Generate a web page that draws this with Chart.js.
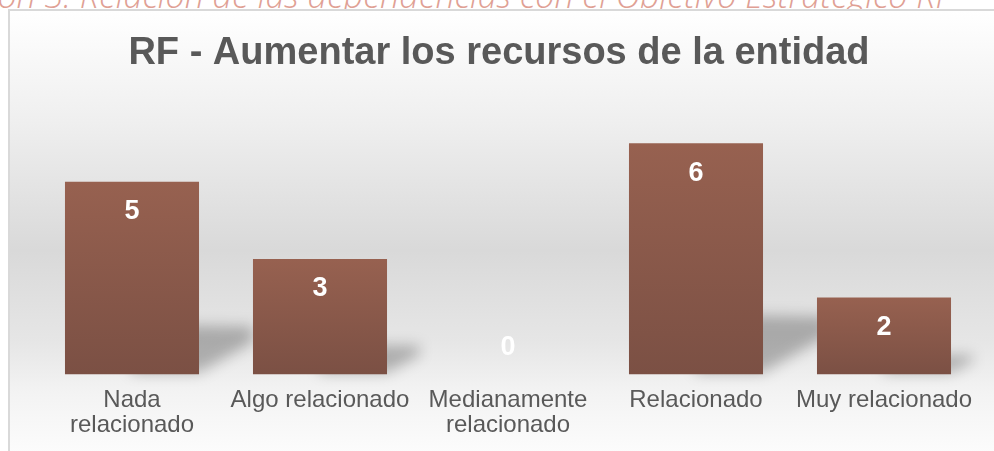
<!DOCTYPE html>
<html>
<head>
<meta charset="utf-8">
<title>RF - Aumentar los recursos de la entidad</title>
<script src="https://cdn.jsdelivr.net/npm/chart.js@4.4.0/dist/chart.umd.min.js"></script>
<style>
  html, body {
    margin: 0;
    padding: 0;
    width: 994px;
    height: 451px;
    overflow: hidden;
    background: #fff;
  }

  .caption {
    position: absolute;
    right: 42px;
    top: -22px;
    line-height: 34px;
    white-space: nowrap;
    font-family: "Open Sans", "Lato", sans-serif;
    font-style: italic;
    font-weight: 300;
    font-size: 34px;
    color: #e0a094;
  }

  .frame {
    position: absolute;
    left: 8px;
    top: 9px;
    width: 1000px;
    height: 460px;
    border: 2px solid #d9d9d9;
    background: linear-gradient(to bottom,
      #ffffff 0%, #efefef 24%, #d9d9d9 52%, #e6e6e6 72%, #f3f3f3 83%, #fcfcfc 96%);
  }

  #chart {
    position: absolute;
    left: 0;
    top: 0;
  }
</style>
</head>
<body>
<div class="caption">Ilustración 3. Relación de las dependencias con el Objetivo Estratégico RF</div>
<div class="frame"></div>
<canvas id="chart" width="994" height="451"></canvas>

<script>
  // datos del gráfico
  var chartTitle = 'RF - Aumentar los recursos de la entidad';
  var categories = [['Nada', 'relacionado'], 'Algo relacionado', ['Medianamente', 'relacionado'], 'Relacionado', 'Muy relacionado'];
  var values = [5, 3, 0, 6, 2];

  var fontFamily = '"Liberation Sans", Arial, sans-serif';

  // degradado vertical por barra
  function barFill(context) {
    var chart = context.chart;
    var y = chart.scales.y;
    if (!y || context.type !== 'data') return '#8a5849';
    var top = y.getPixelForValue(context.raw);
    var base = y.getPixelForValue(0);
    if (!isFinite(top) || !isFinite(base) || Math.abs(base - top) < 1) return '#8a5849';
    var g = chart.ctx.createLinearGradient(0, top, 0, base);
    g.addColorStop(0, '#976150');
    g.addColorStop(1, '#7b5044');
    return g;
  }

  // sombra difusa en diagonal detrás de cada barra
  var barShadows = {
    id: 'barShadows',
    beforeDatasetsDraw: function (chart) {
      var ctx = chart.ctx;
      var meta = chart.getDatasetMeta(0);
      meta.data.forEach(function (bar) {
        var h = bar.base - bar.y;
        if (h <= 1) return;
        var right = bar.x + bar.width / 2;
        ctx.save();
        ctx.filter = 'blur(7px)';
        ctx.fillStyle = 'rgba(0,0,0,0.26)';
        ctx.beginPath();
        ctx.moveTo(bar.x, bar.base - 2);
        ctx.lineTo(bar.x, bar.base - 0.26 * h);
        ctx.lineTo(right + 0.28 * h, bar.base - 0.25 * h);
        ctx.lineTo(right + 0.28 * h, bar.base - 0.17 * h);
        ctx.lineTo(right, bar.base - 2);
        ctx.closePath();
        ctx.fill();
        ctx.restore();
      });
    }
  };

  // etiquetas de valor dentro de las barras
  var valueLabels = {
    id: 'valueLabels',
    afterDatasetsDraw: function (chart) {
      var ctx = chart.ctx;
      var meta = chart.getDatasetMeta(0);
      ctx.save();
      ctx.font = 'bold 27px ' + fontFamily;
      ctx.fillStyle = '#ffffff';
      ctx.textAlign = 'center';
      ctx.textBaseline = 'middle';
      meta.data.forEach(function (bar, i) {
        var v = values[i];
        var y = v > 0 ? bar.y + 30 : bar.base - 27;
        ctx.fillText(String(v), bar.x, y);
      });
      ctx.restore();
    }
  };

  // título
  var titleText = {
    id: 'titleText',
    afterDraw: function (chart) {
      var ctx = chart.ctx;
      ctx.save();
      ctx.font = 'bold 38px ' + fontFamily;
      ctx.fillStyle = '#595959';
      ctx.textAlign = 'center';
      ctx.textBaseline = 'middle';
      ctx.fillText(chartTitle, 499, 54);
      ctx.restore();
    }
  };

  new Chart(document.getElementById('chart').getContext('2d'), {
    type: 'bar',
    data: {
      labels: categories,
      datasets: [{
        data: values,
        backgroundColor: barFill,
        borderWidth: 0,
        barPercentage: 0.713,
        categoryPercentage: 1
      }]
    },
    options: {
      responsive: false,
      animation: false,
      layout: {
        padding: { left: 38, right: 16, top: 66, bottom: 0 }
      },
      plugins: {
        legend: { display: false },
        title: { display: false },
        tooltip: { enabled: false }
      },
      scales: {
        x: {
          grid: { display: false, drawTicks: false },
          border: { display: false },
          ticks: {
            color: '#595959',
            padding: 13,
            maxRotation: 0,
            autoSkip: false,
            font: { family: fontFamily, size: 24, lineHeight: 1.05 }
          }
        },
        y: {
          display: false,
          min: 0,
          max: 8
        }
      }
    },
    plugins: [barShadows, valueLabels, titleText]
  });
</script>
</body>
</html>
